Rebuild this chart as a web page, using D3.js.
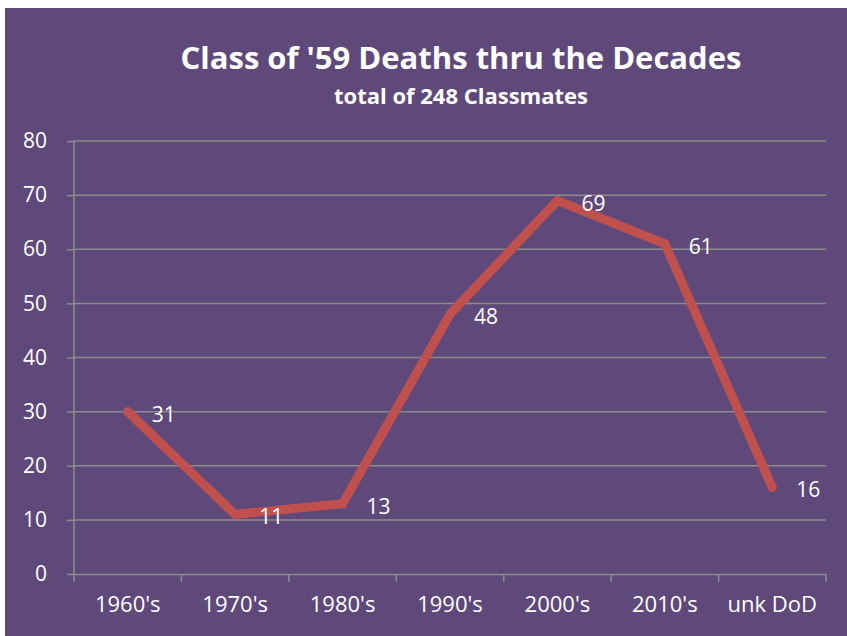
<!DOCTYPE html>
<html>
<head>
<meta charset="utf-8">
<script src="https://cdn.jsdelivr.net/npm/d3@7"></script>
<style>
  body { margin: 0; background: #fff; }
</style>
</head>
<body>
<div id="chart"></div>
<script>
  // data
  const decades = ["1960's", "1970's", "1980's", "1990's", "2000's", "2010's", "unk DoD"];
  const deaths = [30, 11, 13, 48, 69, 61, 16];       // plotted values
  const deathLabels = [31, 11, 13, 48, 69, 61, 16];  // labels typed on the points
  const yTicks = [0, 10, 20, 30, 40, 50, 60, 70, 80];

  const W = 847, H = 636;
  const margin = { top: 141, right: 21, bottom: 62, left: 74 },
    width = W - margin.left - margin.right,
    height = H - margin.top - margin.bottom;

  const root = d3.select("#chart")
    .append("svg")
    .attr("width", W)
    .attr("height", H)
    .style("font-family", "Open Sans");

  // purple chart background
  root.append("rect")
    .attr("x", 5)
    .attr("y", 8)
    .attr("width", W - 5)
    .attr("height", H - 8)
    .attr("fill", "#5f497a");

  // titles
  root.append("text")
    .attr("x", 461)
    .attr("y", 69)
    .attr("text-anchor", "middle")
    .attr("fill", "#fff")
    .style("font-size", "31px")
    .style("font-weight", "bold")
    .text("Class of '59 Deaths thru the Decades");
  root.append("text")
    .attr("x", 461)
    .attr("y", 104)
    .attr("text-anchor", "middle")
    .attr("fill", "#fff")
    .style("font-size", "22px")
    .style("font-weight", "bold")
    .text("total of 248 Classmates");

  const svg = root.append("g")
    .attr("transform", `translate(${margin.left},${margin.top})`);

  // X scale: one band per category
  const x = d3.scaleBand()
    .domain(decades)
    .range([0, width])
    .padding(0);

  const y = d3.scaleLinear()
    .domain([0, 80])
    .range([height, 0]);

  // gridlines
  svg.append("g")
    .selectAll("line")
    .data(yTicks.filter(d => d > 0))
    .join("line")
    .attr("x1", 0)
    .attr("x2", width)
    .attr("y1", d => y(d))
    .attr("y2", d => y(d))
    .attr("stroke", "#8c8c8c")
    .attr("stroke-width", 1.5);

  // Y axis
  const yAxis = svg.append("g")
    .call(d3.axisLeft(y).tickValues(yTicks).tickSize(7).tickPadding(20));
  yAxis.selectAll("text")
    .attr("fill", "#fff")
    .style("font-size", "21px")
    .style("font-family", "Open Sans");

  // X axis: ticks at band edges
  const xAxis = svg.append("g")
    .attr("transform", `translate(0, ${height})`)
    .call(d3.axisBottom(x).tickSize(0).tickPadding(22));
  xAxis.selectAll("text")
    .attr("fill", "#fff")
    .style("font-size", "22px")
    .style("font-family", "Open Sans");
  xAxis.selectAll(".edge")
    .data(decades.concat([null]))
    .join("line")
    .attr("class", "edge")
    .attr("x1", (d, i) => i * x.step())
    .attr("x2", (d, i) => i * x.step())
    .attr("y1", 0)
    .attr("y2", 8);

  root.selectAll(".domain, .tick line, .edge")
    .attr("stroke", "#8c8c8c")
    .attr("stroke-width", 1.5);
  yAxis.select(".domain").attr("d", `M0,${height}V0`);

  // the line
  const line = d3.line()
    .x((d, i) => x(decades[i]) + x.bandwidth() / 2)
    .y(d => y(d));

  svg.append("path")
    .datum(deaths)
    .attr("d", line)
    .attr("fill", "none")
    .attr("stroke", "#c0504d")
    .attr("stroke-width", 9)
    .attr("stroke-linecap", "round")
    .attr("stroke-linejoin", "miter");

  // value labels to the right of each point
  svg.selectAll(".lbl")
    .data(deaths)
    .join("text")
    .attr("class", "lbl")
    .attr("x", (d, i) => x(decades[i]) + x.bandwidth() / 2 + 24)
    .attr("y", d => y(d) + 10)
    .attr("fill", "#fff")
    .style("font-size", "21px")
    .text((d, i) => deathLabels[i]);
</script>
</body>
</html>
